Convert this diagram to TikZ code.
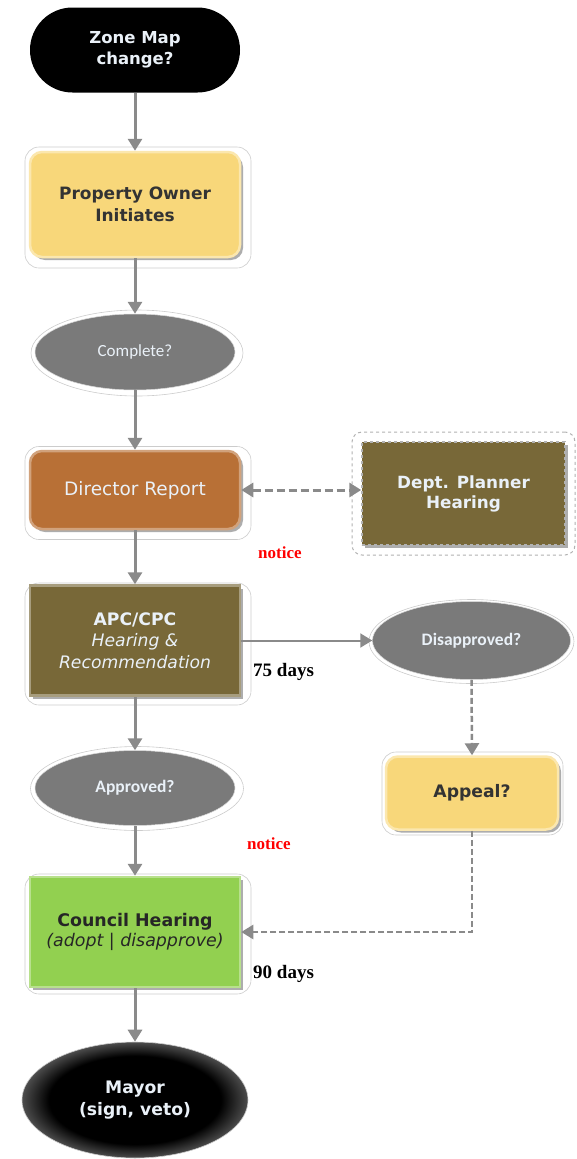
\documentclass[tikz,border=0pt]{standalone}
\usepackage{fontspec}
\setmainfont{DejaVu Sans}
\newfontfamily\carl{Carlito}
\newfontfamily\tms{Liberation Serif}
\usetikzlibrary{arrows.meta,shapes.geometric,shadows}
\definecolor{arrgray}{HTML}{8A8A8A}
\definecolor{ylw}{HTML}{F8D77A}
\definecolor{ylwedge}{HTML}{FBE7AE}
\definecolor{org}{HTML}{B87036}
\definecolor{brn}{HTML}{786838}
\definecolor{grn}{HTML}{92D050}
\definecolor{ellc}{HTML}{7A7A7A}
\definecolor{elle}{HTML}{DADADA}
\definecolor{mayg}{HTML}{8C8C8C}
\definecolor{lighttxt}{HTML}{EAF1F8}
\definecolor{darktxt}{HTML}{333333}
\pgfdeclareradialshading{ellglow}{\pgfpoint{0bp}{0bp}}{color(0bp)=(ellc); color(25bp)=(ellc); color(35bp)=(elle); color(50bp)=(elle)}
\pgfdeclareradialshading{mayglow}{\pgfpoint{0bp}{0bp}}{color(0bp)=(black); color(19bp)=(black); color(30bp)=(mayg); color(35bp)=(elle); color(50bp)=(elle)}
\tikzset{
  halo/.style={draw=gray!40, fill=white, line width=0.6pt, inner sep=0pt},
  haloell/.style={halo, ellipse},
  boxsh/.style={inner sep=0pt, align=center, drop shadow={shadow xshift=3pt, shadow yshift=-3pt, fill=gray!80, opacity=0.8}},
  rbox/.style={boxsh, rectangle, rounded corners=12pt},
  sbox/.style={boxsh, rectangle},
  ellnode/.style={ellipse, inner sep=0pt, align=center, shading=ellglow, draw=gray!30, line width=0.5pt},
  flow/.style={draw=arrgray, line width=3pt, -{Triangle[width=14pt,length=12pt]}},
  thinflow/.style={draw=arrgray, line width=2pt, -{Triangle[width=14pt,length=12pt]}},
  dflow/.style={draw=arrgray, line width=2.5pt, dash pattern=on 6pt off 3pt, -{Triangle[width=14pt,length=12pt]}},
  note/.style={text=red, anchor=west, inner sep=0pt, font=\tms\bfseries\fontsize{17}{19}\selectfont},
  days/.style={text=black, anchor=west, inner sep=0pt, font=\tms\bfseries\fontsize{19}{21}\selectfont},
}
\begin{document}
\begin{tikzpicture}[x=1pt,y=1pt]
\useasboundingbox (0,0) rectangle (576,-1159);
% halos
\node[halo, rounded corners=14pt, minimum width=226pt, minimum height=121pt] (poH) at (138,-207.5) {};
\node[haloell, minimum width=212pt, minimum height=86pt] (compH) at (137,-353) {};
\node[halo, rounded corners=14pt, minimum width=226pt, minimum height=93pt] (drH) at (138,-493) {};
\node[halo, draw=gray!60, line width=1pt, rounded corners=10pt, dashed, minimum width=223pt, minimum height=123pt] (dpH) at (463.5,-493.5) {};
\node[halo, rounded corners=14pt, minimum width=226pt, minimum height=122pt] (apcH) at (138,-644) {};
\node[haloell, minimum width=205pt, minimum height=84pt] (disH) at (471.5,-641.5) {};
\node[haloell, minimum width=213pt, minimum height=84pt] (apprH) at (137,-788.5) {};
\node[halo, rounded corners=14pt, minimum width=181pt, minimum height=83pt] (appH) at (472.5,-793.5) {};
\node[halo, rounded corners=14pt, minimum width=226pt, minimum height=120pt] (chH) at (138,-934) {};

% main nodes
\node[rectangle, rounded corners=42.5pt, fill=black, minimum width=210pt, minimum height=85pt, inner sep=0pt, align=center,
      text=lighttxt, font=\bfseries\fontsize{16.5}{21}\selectfont] (zone) at (135,-50) {Zone Map\\change?};
\node[rbox, fill=ylw, draw=ylwedge, line width=2.5pt, minimum width=210pt, minimum height=105pt,
      text=darktxt, font=\bfseries\fontsize{17}{22}\selectfont] (po) at (135,-204.5) {Property Owner\\Initiates};
\node[ellnode, minimum width=200pt, minimum height=76pt, text=lighttxt, font=\carl\fontsize{17}{19}\selectfont] (comp) at (135,-352) {Complete?};
\node[rbox, fill=org, draw=org!65!white, line width=2.5pt, minimum width=210pt, minimum height=78pt,
      text=lighttxt, font=\fontsize{18.5}{21}\selectfont] (dr) at (135,-490) {Director Report};
\node[sbox, fill=brn, draw=gray!60, dashed, line width=1.5pt, minimum width=203pt, minimum height=103pt,
      text=lighttxt, font=\bfseries\fontsize{16.8}{20}\selectfont] (dp) at (463.5,-493.5) {Dept. Planner\\Hearing};
\node[sbox, fill=brn, draw=brn!65!white, line width=2.5pt, minimum width=210pt, minimum height=110pt,
      text=lighttxt, font=\fontsize{17.2}{21.5}\selectfont] (apc) at (135,-640.5) {\textbf{APC/CPC}\\\textit{Hearing \&}\\\textit{Recommendation}};
\node[ellnode, minimum width=198pt, minimum height=78pt, text=lighttxt, font=\carl\bfseries\fontsize{17.5}{19}\selectfont] (dis) at (471.5,-640.5) {Disapproved?};
\node[ellnode, minimum width=200pt, minimum height=75pt, text=lighttxt, font=\carl\bfseries\fontsize{17.5}{19}\selectfont] (appr) at (135,-788) {Approved?};
\node[rbox, fill=ylw, draw=ylwedge, line width=2.5pt, minimum width=172pt, minimum height=73pt,
      text=darktxt, font=\bfseries\fontsize{17.2}{20}\selectfont] (app) at (472,-793) {Appeal?};
\node[sbox, fill=grn, draw=grn!65!white, line width=2.5pt, minimum width=210pt, minimum height=110pt,
      text=black!85, font=\fontsize{17.4}{20}\selectfont] (ch) at (135,-932) {\textbf{Council Hearing}\\\textit{(adopt | disapprove)}};
\node[ellipse, inner sep=0pt, align=center, shading=mayglow, draw=gray!40, line width=0.6pt, minimum width=226pt, minimum height=116pt,
      text=lighttxt, font=\bfseries\fontsize{17.2}{22}\selectfont] (mayor) at (135,-1100) {Mayor\\(sign, veto)};

% labels
\node[note] (n1) at (258,-553) {notice};
\node[note] (n2) at (247,-844) {notice};
\node[days] (d75) at (253,-672) {75 days};
\node[days] (d90) at (253,-974) {90 days};

% connectors
\draw[flow] (zone.south) -- (po.north);
\draw[flow] (po.south) -- (comp.north);
\draw[flow] (comp.south) -- (dr.north);
\draw[flow] (dr.south) -- (apc.north);
\draw[flow] (apc.south) -- (appr.north);
\draw[flow] (appr.south) -- (ch.north);
\draw[flow] (ch.south) -- (mayor.north);
\draw[thinflow] (apc.east) -- (dis.west);
\draw[draw=arrgray, line width=3pt, dash pattern=on 8pt off 4pt, {Triangle[width=14pt,length=12pt]}-{Triangle[width=14pt,length=12pt]}] (dr.east) -- (dr.east -| dp.west);
\draw[dflow] (dis.south) -- (app.north);
\draw[dflow] (app.south) |- (ch.east);
\end{tikzpicture}
\end{document}
